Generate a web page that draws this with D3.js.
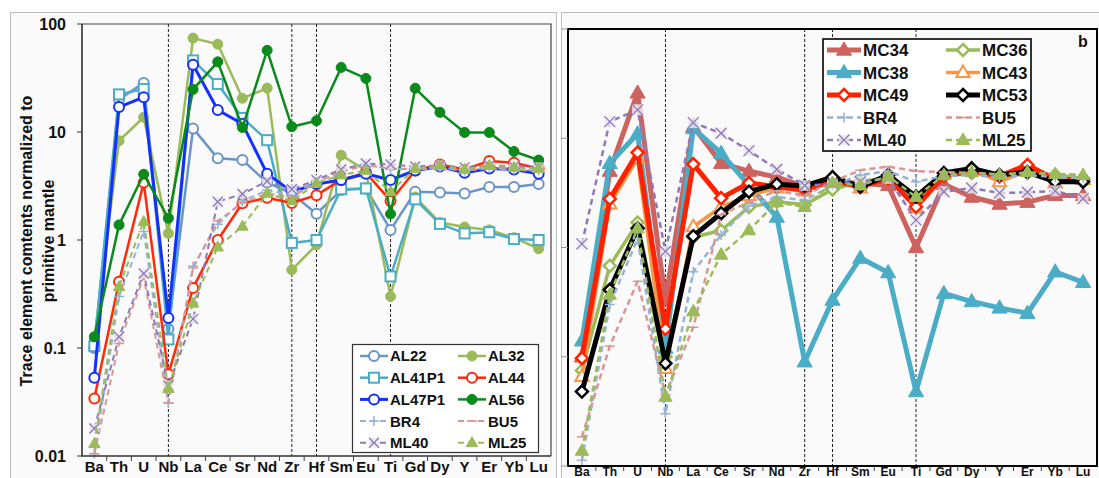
<!DOCTYPE html>
<html><head><meta charset="utf-8">
<script src="https://cdn.jsdelivr.net/npm/d3@7"></script>
<style>
body{margin:0;background:#fff}
svg{display:block}
text{font-family:"Liberation Sans",Arial,sans-serif;font-weight:bold;fill:#111}
</style>
</head><body>
<svg id="c" width="1099" height="478"></svg>
<script>
// ---------- data ----------
const elements = ["Ba","Th","U","Nb","La","Ce","Sr","Nd","Zr","Hf","Sm","Eu","Ti","Gd","Dy","Y","Er","Yb","Lu"];
const dividerElements = ["Nb","Zr","Hf","Ti"];
const yTicks = [0.01, 0.1, 1, 10, 100];
const yTickLabels = ["0.01","0.1","1","10","100"];
const yTitleLines = ["Trace element comtents normalized to","primitive mantle"];

// panel a
const AL22   = [0.1, 20, 28.5, 0.15, 10.8, 5.7, 5.5, 3.4, 2.7, 1.75, 2.9, 3.0, 1.24, 2.8, 2.75, 2.7, 3.1, 3.1, 3.3];
const AL32   = [0.12, 8.3, 13.7, 1.15, 74, 65, 20.5, 25.5, 0.53, 0.9, 6.1, 4.4, 0.3, 2.5, 1.45, 1.32, 1.24, 1.05, 0.83];
const AL41P1 = [0.104, 22.3, 25, 0.12, 46, 27.8, 13.5, 8.4, 0.94, 1.0, 2.95, 3.0, 0.46, 2.38, 1.41, 1.15, 1.18, 1.02, 1.0];
const AL44   = [0.034, 0.41, 3.4, 0.057, 0.36, 1.0, 2.19, 2.46, 2.2, 2.6, 3.6, 4.2, 2.3, 4.4, 5.0, 4.5, 5.4, 5.2, 4.6];
const AL47P1 = [0.053, 17, 21, 0.19, 42, 16, 11.9, 4.1, 2.8, 3.3, 3.6, 4.1, 3.6, 4.4, 4.8, 4.2, 4.6, 4.5, 4.1];
const AL56   = [0.127, 1.38, 4.06, 1.59, 24.8, 44.6, 11, 57, 11.2, 12.7, 39.6, 31.3, 1.74, 25.4, 15.2, 9.9, 9.9, 6.6, 5.5];
const BR4a   = [0.0105, 0.3, 1.2, 0.031, 0.57, 1.4, 2.3, 2.9, 2.6, 3.6, 4.5, 5.0, 4.5, 4.6, 4.7, 4.4, 4.7, 4.5, 4.4];
const BU5a   = [0.0105, 0.11, 0.45, 0.031, 0.55, 1.5, 2.2, 2.7, 2.5, 3.4, 4.3, 4.9, 4.6, 4.5, 4.6, 4.4, 4.6, 4.5, 4.3];
const ML40a  = [0.018, 0.127, 0.49, 0.045, 0.186, 2.26, 2.67, 3.5, 2.95, 3.6, 4.5, 5.1, 5.0, 4.8, 4.9, 4.7, 4.9, 4.8, 4.7];
const ML25a  = [0.013, 0.37, 1.48, 0.042, 0.26, 0.86, 1.34, 2.7, 2.3, 3.35, 4.0, 4.4, 2.8, 4.6, 4.9, 4.5, 4.9, 4.7, 4.6];

// panel b
const MC34  = [0.1, 5.0, 26, 0.33, 12.8, 5.9, 5.0, 4.4, 3.6, 3.9, 3.9, 3.7, 1.0, 3.8, 2.9, 2.5, 2.6, 3.0, 3.0];
const MC36  = [0.075, 0.68, 1.69, 0.1, 1.24, 1.43, 2.35, 2.62, 2.46, 3.4, 4.0, 4.4, 2.7, 4.5, 4.8, 4.5, 4.8, 4.6, 4.3];
const MC38  = [0.14, 5.9, 11, 0.12, 12.3, 7.3, 3.7, 1.9, 0.09, 0.33, 0.8, 0.59, 0.048, 0.38, 0.32, 0.28, 0.25, 0.6, 0.48];
const MC43  = [0.066, 2.5, 6.5, 0.078, 1.55, 2.35, 3.0, 3.5, 3.3, 4.4, 3.5, 4.6, 2.3, 4.7, 5.2, 4.0, 5.0, 3.9, 4.2];
const MC49  = [0.097, 2.78, 7.4, 0.18, 5.8, 2.83, 3.9, 3.6, 3.36, 4.1, 3.6, 4.3, 2.36, 4.5, 5.0, 4.5, 5.7, 4.2, 4.2];
const MC53  = [0.048, 0.41, 1.5, 0.087, 1.27, 2.06, 3.24, 3.8, 3.66, 4.4, 3.6, 4.6, 2.92, 4.8, 5.3, 4.6, 4.9, 4.0, 4.0];
const BR4b  = [0.0113, 0.3, 1.2, 0.03, 0.6, 1.3, 2.4, 2.9, 2.7, 3.7, 4.6, 5.0, 4.0, 4.5, 4.6, 4.4, 4.6, 4.4, 4.3];
const BU5b  = [0.0185, 0.125, 0.49, 0.045, 0.186, 2.0, 2.6, 3.3, 3.0, 4.0, 5.1, 5.5, 5.0, 4.9, 4.8, 4.7, 4.8, 4.7, 4.6];
const ML40b = [1.08, 14.2, 18.2, 0.92, 13.9, 11.1, 7.7, 5.2, 3.7, 3.8, 4.0, 4.3, 1.78, 3.24, 3.5, 3.15, 3.2, 3.3, 2.8];
const ML25b = [0.0138, 0.37, 1.5, 0.043, 0.26, 0.86, 1.44, 2.6, 2.35, 3.9, 3.7, 4.5, 2.9, 4.6, 4.9, 4.6, 4.9, 4.7, 4.6];

// ---------- styles ----------
const seriesA = [
  {name:"AL22",   data:AL22,   color:"#6a95c9", w:2.5, mk:"circleOpen", ms:5},
  {name:"AL32",   data:AL32,   color:"#9bbb59", w:2.5, mk:"circleFilled", ms:5},
  {name:"AL41P1", data:AL41P1, color:"#4bacc6", w:2.5, mk:"squareOpen", ms:5},
  {name:"AL44",   data:AL44,   color:"#ff2a0a", w:2.5, mk:"circleOpen", ms:5},
  {name:"AL47P1", data:AL47P1, color:"#1430ff", w:3, mk:"circleOpen", ms:5},
  {name:"AL56",   data:AL56,   color:"#0b8a1c", w:2.5, mk:"circleFilled", ms:5},
  {name:"BR4",    data:BR4a,   color:"#95b3d7", w:2, dash:"6,4", mk:"plus", ms:5},
  {name:"BU5",    data:BU5a,   color:"#d99694", w:2, dash:"6,4", mk:"minus", ms:5},
  {name:"ML40",   data:ML40a,  color:"#8f79b6", w:2, dash:"6,4", mk:"cross", ms:5},
  {name:"ML25",   data:ML25a,  color:"#9bbb59", w:2, dash:"6,4", mk:"triFilled", ms:6}
];
const seriesB = [
  {name:"MC34", data:MC34,  color:"#cd625e", w:5, mk:"triFilled", ms:8},
  {name:"MC36", data:MC36,  color:"#9bbb59", w:3.5, mk:"diamondOpen", ms:6},
  {name:"MC38", data:MC38,  color:"#4bacc6", w:5, mk:"triFilled", ms:8},
  {name:"MC43", data:MC43,  color:"#f79646", w:3.5, mk:"triOpen", ms:7},
  {name:"MC49", data:MC49,  color:"#ff2200", w:5, mk:"diamondOpen", ms:6},
  {name:"MC53", data:MC53,  color:"#000000", w:5, mk:"diamondOpen", ms:6},
  {name:"BR4",  data:BR4b,  color:"#95b3d7", w:2.5, dash:"6,4", mk:"plus", ms:5},
  {name:"BU5",  data:BU5b,  color:"#d99694", w:2.5, dash:"6,4", mk:"minus", ms:5},
  {name:"ML40", data:ML40b, color:"#8f79b6", w:2.5, dash:"6,4", mk:"cross", ms:5.5},
  {name:"ML25", data:ML25b, color:"#9bbb59", w:2.5, dash:"6,4", mk:"triFilled", ms:7}
];

const svg = d3.select("#c");

function marker(g, type, x, y, color, s) {
  switch (type) {
    case "circleOpen":
      g.append("circle").attr("cx",x).attr("cy",y).attr("r",s).attr("fill","#fff").attr("stroke",color).attr("stroke-width",2); break;
    case "circleFilled":
      g.append("circle").attr("cx",x).attr("cy",y).attr("r",s).attr("fill",color).attr("stroke",color).attr("stroke-width",1); break;
    case "squareOpen":
      g.append("rect").attr("x",x-s).attr("y",y-s).attr("width",2*s).attr("height",2*s).attr("fill","#fff").attr("stroke",color).attr("stroke-width",2); break;
    case "triFilled":
      g.append("path").attr("d",`M${x},${y-s}L${x+s*0.95},${y+s*0.65}L${x-s*0.95},${y+s*0.65}Z`).attr("fill",color).attr("stroke",color).attr("stroke-width",1); break;
    case "triOpen":
      g.append("path").attr("d",`M${x},${y-s}L${x+s*0.95},${y+s*0.65}L${x-s*0.95},${y+s*0.65}Z`).attr("fill","#fff").attr("stroke",color).attr("stroke-width",2); break;
    case "diamondOpen":
      g.append("path").attr("d",`M${x},${y-s}L${x+s},${y}L${x},${y+s}L${x-s},${y}Z`).attr("fill","#fff").attr("stroke",color).attr("stroke-width",2.5); break;
    case "plus":
      g.append("path").attr("d",`M${x-s},${y}H${x+s}M${x},${y-s}V${y+s}`).attr("stroke",color).attr("stroke-width",1.5).attr("fill","none"); break;
    case "minus":
      g.append("path").attr("d",`M${x-s},${y}H${x+s}`).attr("stroke",color).attr("stroke-width",1.5).attr("fill","none"); break;
    case "cross":
      g.append("rect").attr("x",x-s).attr("y",y-s).attr("width",2*s).attr("height",2*s).attr("fill","#ece9f2").attr("opacity",0.8);
      g.append("path").attr("d",`M${x-s},${y-s}L${x+s},${y+s}M${x-s},${y+s}L${x+s},${y-s}`).attr("stroke",color).attr("stroke-width",1.3).attr("fill","none"); break;
  }
}

function drawPanel(p) {
  const g = svg.append("g");
  g.append("rect").attr("x",p.box[0]).attr("y",p.box[1]).attr("width",p.box[2]).attr("height",p.box[3])
    .attr("fill","#fafafa").attr("stroke","#bdbdbd").attr("stroke-width",1);
  const x = d3.scaleBand().domain(elements).range([p.left,p.right]);
  const y = d3.scaleLog().domain([0.01,100]).range([p.bottom,p.top]);
  const cx = d => x(d) + x.bandwidth()/2;

  dividerElements.forEach(e => {
    g.append("line").attr("x1",cx(e)).attr("x2",cx(e)).attr("y1",p.top).attr("y2",p.bottom)
      .attr("stroke","#222").attr("stroke-width",1).attr("stroke-dasharray","3,2");
  });

  p.series.forEach(s => {
    const pts = elements.map((e,i)=>[cx(e), y(s.data[i])]);
    const sg = g.append("g");
    sg.append("path").attr("d", d3.line()(pts)).attr("fill","none").attr("stroke",s.color)
      .attr("stroke-width",s.w).attr("stroke-linejoin","round")
      .attr("stroke-dasharray", s.dash || null);
    pts.forEach(pt => marker(sg, s.mk, pt[0], pt[1], s.color, s.ms));
  });

  if (p.heavyFrame) {
    g.append("rect").attr("x",p.left).attr("y",p.top).attr("width",p.right-p.left).attr("height",p.bottom-p.top)
      .attr("fill","none").attr("stroke","#000").attr("stroke-width",2);
  } else {
    g.append("path").attr("d",`M${p.left},${p.top}H${p.right}V${p.bottom}`).attr("fill","none").attr("stroke","#444").attr("stroke-width",1.2);
    g.append("path").attr("d",`M${p.left},${p.top}V${p.bottom}H${p.right}`).attr("fill","none").attr("stroke","#333").attr("stroke-width",1.6);
  }

  elements.forEach((e,i) => {
    if (i===0) return;
    g.append("line").attr("x1",x(e)).attr("x2",x(e)).attr("y1",p.bottom).attr("y2",p.bottom+5)
      .attr("stroke","#444").attr("stroke-width",1);
  });
  yTicks.forEach((t,i) => {
    g.append("line").attr("x1",p.left-p.yTickLen).attr("x2",p.left).attr("y1",y(t)).attr("y2",y(t))
      .attr("stroke",p.yTickColor).attr("stroke-width",1);
    if (p.yLabels) {
      g.append("text").attr("x",p.left-16).attr("y",y(t)).attr("dy","0.36em").attr("text-anchor","end")
        .style("font-size","16px").text(yTickLabels[i]);
    }
  });
  elements.forEach(e => {
    g.append("text").attr("x",cx(e)).attr("y",p.xLabelY).attr("text-anchor","middle")
      .style("font-size",p.xLabelSize).text(e);
  });

  const L = p.legend;
  g.append("rect").attr("x",L.x).attr("y",L.y).attr("width",L.w).attr("height",L.h)
    .attr("fill","#fff").attr("stroke",L.stroke).attr("stroke-width",L.sw);
  p.series.forEach((s,i) => {
    const col = i%2, row = Math.floor(i/2);
    const ly = L.y0 + row*L.dy;
    const x0 = L.cols[col], x1 = x0 + L.lineLen;
    const lg = g.append("g");
    lg.append("line").attr("x1",x0).attr("x2",x1).attr("y1",ly).attr("y2",ly)
      .attr("stroke",s.color).attr("stroke-width",s.w).attr("stroke-dasharray",s.dash||null);
    marker(lg, s.mk, (x0+x1)/2, ly, s.color, s.ms);
    lg.append("text").attr("x",x1+2).attr("y",ly).attr("dy","0.36em").style("font-size",L.fs).text(s.name);
  });
  return {x,y};
}

drawPanel({
  box:[10.5,12.5,546,470], left:82, right:551, top:24, bottom:456,
  series:seriesA, yLabels:true, yTickLen:5, yTickColor:"#333",
  xLabelY:472, xLabelSize:"15px",
  legend:{x:352.5,y:344.5,w:186,h:108,stroke:"#333",sw:1.2,y0:356,dy:21.7,cols:[360,458],lineLen:28,fs:"15px"}
});

drawPanel({
  box:[561.5,12.5,545,470], left:568, right:1097, top:29, bottom:466,
  series:seriesB, yLabels:false, yTickLen:7, yTickColor:"#999", heavyFrame:true,
  xLabelY:476, xLabelSize:"12px",
  legend:{x:823,y:39,w:208,h:112,stroke:"#000",sw:1.6,y0:50,dy:22.5,cols:[827,946],lineLen:34,fs:"17px"}
});

yTitleLines.forEach((t,i) => {
  const xx = i===0 ? 26 : 48;
  svg.append("text").attr("transform",`translate(${xx},241) rotate(-90)`).attr("text-anchor","middle")
    .attr("dy","0.36em").style("font-size","16px").text(t);
});
svg.append("text").attr("x",1083).attr("y",47).attr("text-anchor","middle").style("font-size","16px").text("b");
</script>
</body></html>
